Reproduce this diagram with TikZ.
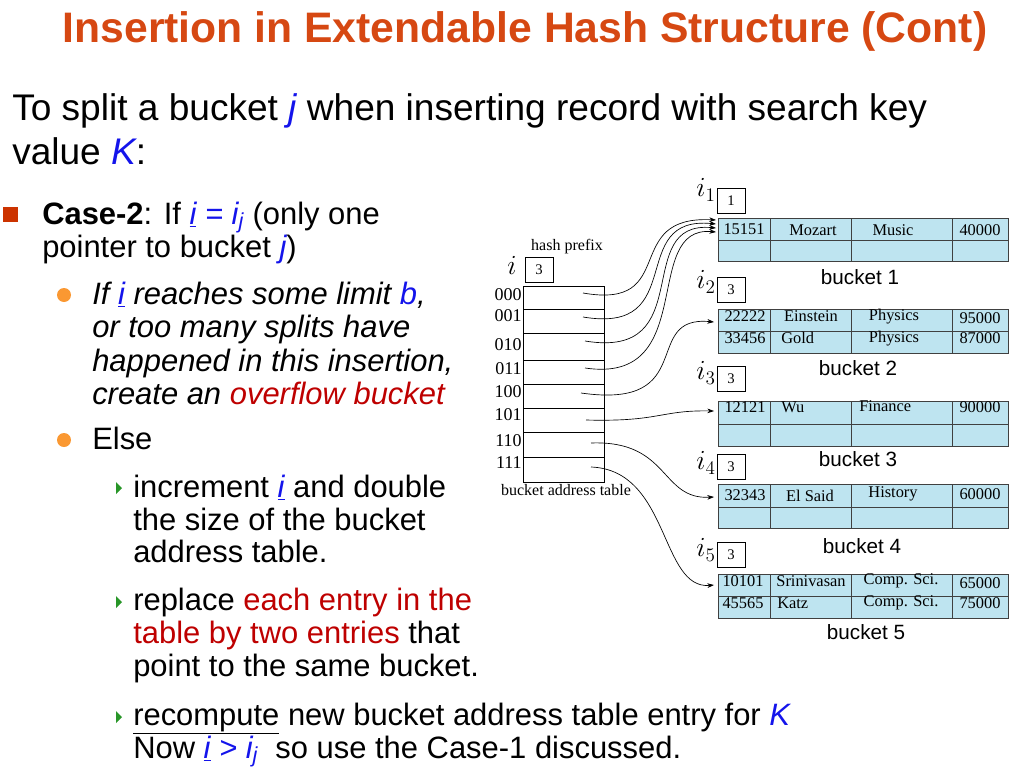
\documentclass[tikz,border=0pt]{standalone}
\usepackage{fontspec}
\setmainfont{Liberation Sans}
\newfontfamily\serifx{Liberation Serif}
\usetikzlibrary{arrows.meta}
\definecolor{ttl}{RGB}{214,72,18}
\definecolor{bsq}{RGB}{204,51,0}
\definecolor{bor}{RGB}{250,152,50}
\definecolor{btri}{RGB}{40,150,40}
\definecolor{kb}{RGB}{20,20,235}
\definecolor{kr}{RGB}{190,0,0}
\definecolor{cellb}{RGB}{190,228,240}
\begin{document}
\begin{tikzpicture}[x=0.75pt,y=-0.75pt,
 big/.style={anchor=base west,inner sep=0,font=\fontsize{27.8}{32}\selectfont},
 mid/.style={anchor=base west,inner sep=0,font=\fontsize{23.2}{27}\selectfont},
 cell/.style={inner sep=0,font=\serifx\fontsize{12.3}{14}\selectfont},
 ilab/.style={inner sep=0,font=\fontsize{20}{22}\selectfont},
 dbox/.style={draw,minimum width=21pt,minimum height=19pt,inner sep=0,font=\serifx\fontsize{11}{13}\selectfont},
 blab/.style={inner sep=0,font=\fontsize{15.5}{18}\selectfont},
 ptr/.style={-{Stealth[length=5pt,width=3.5pt]},line width=0.5pt},
 tri/.style={fill=btri}]
\useasboundingbox (0,0) rectangle (1024,778);
% title
\node[inner sep=0,font=\bfseries\fontsize{32}{36}\selectfont,text=ttl] (title) at (525,31) {Insertion in Extendable Hash Structure (Cont)};
% main text
\node[big] (l1) at (12,120) {To split a bucket \textcolor{kb}{\itshape j} when inserting record with search key};
\node[big] (l2) at (12,164) {value \textcolor{kb}{\itshape K}:};
\fill[bsq] (3,207) rectangle (18,222);
\node[mid] (c1) at (42,224) {\textbf{Case-2}: If \textcolor{kb}{\itshape\underline{i} = i\textsubscript{j}} (only one};
\node[mid] (c2) at (42,257) {pointer to bucket \textcolor{kb}{\itshape j})};
\fill[bor] (64,295) circle (7);
\node[mid,font=\itshape\fontsize{23.2}{27}\selectfont] (s1) at (92,304) {If \textcolor{kb}{\underline{i}} reaches some limit \textcolor{kb}{b},};
\node[mid,font=\itshape\fontsize{23.2}{27}\selectfont] (s2) at (92,337) {or too many splits have};
\node[mid,font=\itshape\fontsize{23.2}{27}\selectfont] (s3) at (92,371) {happened in this insertion,};
\node[mid,font=\itshape\fontsize{23.2}{27}\selectfont] (s4) at (92,404) {create an \textcolor{kr}{overflow bucket}};
\fill[bor] (64,440) circle (7);
\node[mid] (e1) at (92,449) {Else};
\fill[tri] (116,482) -- (122,488) -- (116,494) -- cycle;
\node[mid] (t1) at (133,497) {increment \textcolor{kb}{\itshape\underline{i}} and double};
\node[mid] (t2) at (133,530) {the size of the bucket};
\node[mid] (t3) at (133,562) {address table.};
\fill[tri] (116,596) -- (122,602) -- (116,608) -- cycle;
\node[mid] (r1) at (133,610) {replace \textcolor{kr}{each entry in the}};
\node[mid] (r2) at (133,643) {\textcolor{kr}{table by two entries} that};
\node[mid] (r3) at (133,676) {point to the same bucket.};
\fill[tri] (116,711) -- (122,717) -- (116,723) -- cycle;
\node[mid] (q1) at (133,725) {\underline{recompute} new bucket address table entry for \textcolor{kb}{\itshape K}};
\node[mid] (q2) at (133,758) {Now \textcolor{kb}{\itshape\underline{i} > i\textsubscript{j}} \ so use the Case-1 discussed.};
% bucket address table
\node[inner sep=0,font=\serifx\fontsize{12}{14}\selectfont] (hp) at (567,247) {hash prefix};
\node[inner sep=0,font=\fontsize{21}{23}\selectfont] (ii) at (512,265) {$i$};
\node[dbox] (ib) at (539,270) {3};
\draw[line width=0.5pt] (523,286) rectangle (604,482);
\foreach \y in {309,333,360,384,408,432,457} \draw[line width=0.5pt] (523,\y) -- (604,\y);
\foreach \t/\y in {000/295,001/316,010/345,011/369,100/392,101/415,110/441,111/463}
  \node[inner sep=0,anchor=east,font=\serifx\fontsize{13.5}{15}\selectfont] at (522,\y) {\t};
\node[inner sep=0,font=\serifx\fontsize{12}{14}\selectfont] (bat) at (566,490) {bucket address table};
% buckets
\newcommand{\bkt}[3]{%
 \fill[cellb] (718,#1) rectangle (1008,#3);
 \draw[line width=0.5pt,draw=black!75] (718,#1) rectangle (1008,#3) (718,#2) -- (1008,#2)
   (770,#1) -- (770,#3) (851,#1) -- (851,#3) (952,#1) -- (952,#3);}
\bkt{218}{240}{261}
\bkt{309}{331}{353}
\bkt{401}{424}{446}
\bkt{484}{507}{528}
\bkt{574}{596}{618}
\node[cell] at (744,229) {15151}; \node[cell] at (813,230) {Mozart}; \node[cell] at (893,230) {Music}; \node[cell] at (980,230) {40000};
\node[cell] at (745,316) {22222}; \node[cell] at (811,316) {Einstein}; \node[cell] at (894,317) {Physics}; \node[cell] at (980,318) {95000};
\node[cell] at (745,338) {33456}; \node[cell,anchor=west] at (781,338) {Gold}; \node[cell] at (894,339) {Physics}; \node[cell] at (980,338) {87000};
\node[cell] at (745,407) {12121}; \node[cell,anchor=west] at (781,407) {Wu}; \node[cell,anchor=west] at (859,406) {Finance}; \node[cell] at (980,407) {90000};
\node[cell] at (745,495) {32343}; \node[cell] at (810,496) {El Said}; \node[cell] at (893,494) {History}; \node[cell] at (980,494) {60000};
\node[cell] at (743,581) {10101}; \node[cell] at (811,581) {Srinivasan}; \node[cell] at (901,581) {Comp. Sci.}; \node[cell] at (980,583) {65000};
\node[cell] at (743,603) {45565}; \node[cell,anchor=west] at (777,603) {Katz}; \node[cell] at (901,603) {Comp. Sci.}; \node[cell] at (980,603) {75000};
% local depths
\node[ilab] (li1) at (706,190) {$i_1$}; \node[dbox] (lb1) at (731,201) {1};
\node[ilab] (li2) at (706,282) {$i_2$}; \node[dbox] (lb2) at (731,290) {3};
\node[ilab] (li3) at (706,373) {$i_3$}; \node[dbox] (lb3) at (731,379) {3};
\node[ilab] (li4) at (706,463) {$i_4$}; \node[dbox] (lb4) at (731,467) {3};
\node[ilab] (li5) at (706,550) {$i_5$}; \node[dbox] (lb5) at (731,555) {3};
\node[blab] (bl1) at (860,277) {bucket 1};
\node[blab] (bl2) at (858,368) {bucket 2};
\node[blab] (bl3) at (858,459) {bucket 3};
\node[blab] (bl4) at (862,546) {bucket 4};
\node[blab] (bl5) at (866,632) {bucket 5};
% pointers
\coordinate (p0) at (583,293); \coordinate (p1) at (583,317); \coordinate (p2) at (585,341);
\coordinate (p3) at (585,368); \coordinate (p4) at (581,393); \coordinate (p5) at (586,420);
\coordinate (p6) at (591,443); \coordinate (p7) at (591,467);
\coordinate (b1a) at (716,220); \coordinate (b1b) at (716,224); \coordinate (b1c) at (716,228); \coordinate (b1d) at (716,232);
\coordinate (b2) at (714,322); \coordinate (b3) at (714,411); \coordinate (b4) at (714,497); \coordinate (b5) at (714,585);
\draw[ptr] (p0) .. controls (680,310) and (620,215) .. (b1a);
\draw[ptr] (p1) .. controls (690,335) and (625,215) .. (b1b);
\draw[ptr] (p2) .. controls (700,360) and (630,220) .. (b1c);
\draw[ptr] (p3) .. controls (700,385) and (640,225) .. (b1d);
\draw[ptr] (p4) .. controls (700,410) and (640,315) .. (b2);
\draw[ptr] (p5) .. controls (660,422) and (660,410) .. (b3);
\draw[ptr] (p6) .. controls (670,440) and (660,500) .. (b4);
\draw[ptr] (p7) .. controls (670,470) and (660,590) .. (b5);
\end{tikzpicture}
\end{document}
